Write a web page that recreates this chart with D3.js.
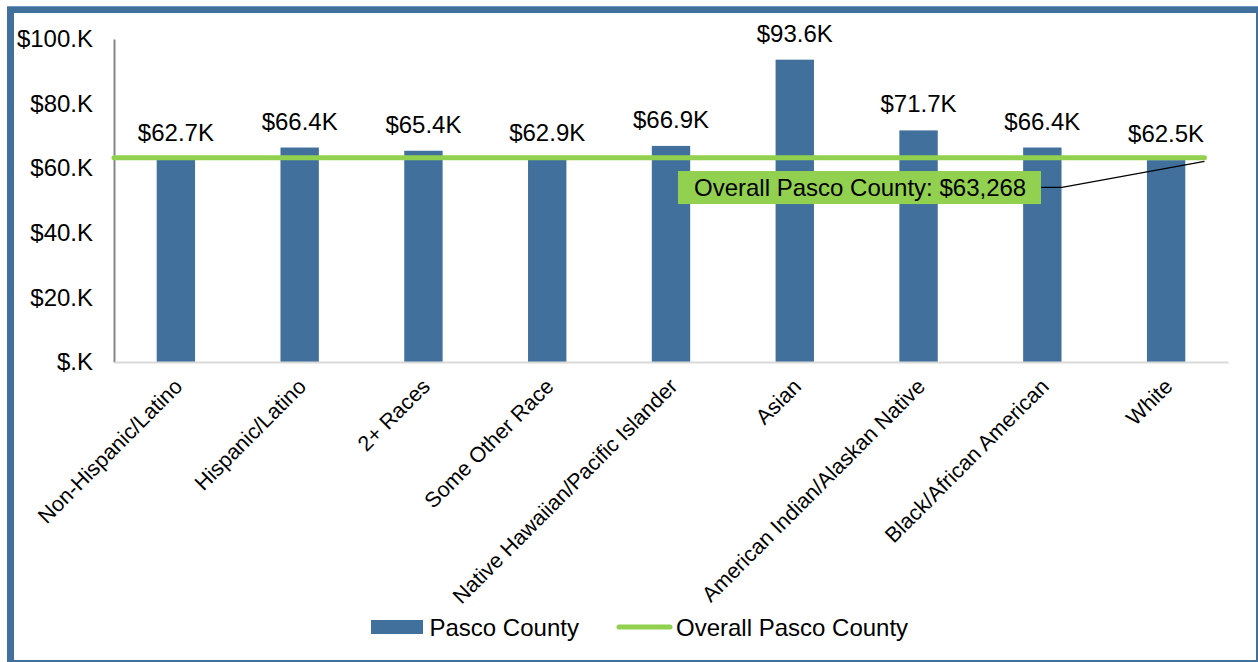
<!DOCTYPE html>
<html><head><meta charset="utf-8">
<script src="https://cdn.jsdelivr.net/npm/d3@7"></script>
<style>body{margin:0;background:#fff}svg{display:block;font-family:Arial,"Liberation Sans",sans-serif}</style>
</head><body><svg id="c" width="1258" height="662"></svg>
<script>
const categories = ["Non-Hispanic/Latino","Hispanic/Latino","2+ Races","Some Other Race","Native Hawaiian/Pacific Islander","Asian","American Indian/Alaskan Native","Black/African American","White"];
const pascoValues = [62700,66400,65400,62900,66900,93600,71700,66400,62500];
const valueLabels = ["$62.7K","$66.4K","$65.4K","$62.9K","$66.9K","$93.6K","$71.7K","$66.4K","$62.5K"];
const overallValue = 63268;
const overallLabel = "Overall Pasco County: $63,268";
const yTicks = [0,20000,40000,60000,80000,100000];
const yTickLabels = ["$.K","$20.K","$40.K","$60.K","$80.K","$100.K"];
const seriesNames = ["Pasco County","Overall Pasco County"];

const blue = "#41709c", green = "#92d050";
const svg = d3.select("#c");
const m = {left:114, right:1228, top:39, bottom:362};
const x = d3.scaleBand().domain(categories).range([m.left,m.right]).paddingInner(0.69).paddingOuter(0.345);
const y = d3.scaleLinear().domain([0,100000]).range([m.bottom,m.top]);
const fs = 24;

// frame
svg.append("rect").attr("x",10.5).attr("y",9.5).attr("width",1249).attr("height",654)
  .attr("fill","none").attr("stroke",blue).attr("stroke-width",7);
svg.append("line").attr("x1",7).attr("x2",1258).attr("y1",6.5).attr("y2",6.5).attr("stroke","#6f97bf").attr("stroke-width",1);

// y axis
const ya = svg.append("g").attr("transform",`translate(${m.left},0)`)
  .call(d3.axisLeft(y).tickValues(yTicks).tickSize(0).tickPadding(21).tickFormat((d,i)=>yTickLabels[i]));
ya.select(".domain").attr("stroke","#868686").attr("stroke-width",2);
ya.selectAll("text").attr("font-size",fs).attr("fill","#000").attr("font-family","Arial,'Liberation Sans',sans-serif");

// bars
svg.append("g").selectAll("rect").data(categories).join("rect")
  .attr("x",d=>x(d)).attr("width",x.bandwidth())
  .attr("y",(d,i)=>y(pascoValues[i])).attr("height",(d,i)=>y(0)-y(pascoValues[i]))
  .attr("fill",blue);

// x axis
const xa = svg.append("g").attr("transform",`translate(0,${m.bottom})`)
  .call(d3.axisBottom(x).tickSize(0).tickPadding(0));
xa.select(".domain").attr("stroke","#d9d9d9").attr("stroke-width",2);
xa.selectAll("text").attr("font-size",21.5).attr("fill","#000").attr("font-family","Arial,'Liberation Sans',sans-serif")
  .attr("text-anchor","end").attr("dy","0.71em")
  .attr("transform","translate(-3,15) rotate(-45)");

// overall line
const xEnd = x(categories[categories.length-1]) + x.bandwidth()*1.5;
svg.append("line").attr("x1",m.left).attr("x2",xEnd).attr("y1",y(overallValue)).attr("y2",y(overallValue))
  .attr("stroke",green).attr("stroke-width",5).attr("stroke-linecap","round");

// value labels
svg.append("g").selectAll("text").data(categories).join("text")
  .attr("x",d=>x(d)+x.bandwidth()/2).attr("y",(d,i)=>y(pascoValues[i])-18)
  .attr("text-anchor","middle").attr("font-size",fs).attr("fill","#000").text((d,i)=>valueLabels[i]);

// annotation
const ay = y(overallValue);
svg.append("polyline").attr("points",`1041,${ay+29.8} 1062,${ay+29.8} ${xEnd},${ay+3.8}`)
  .attr("fill","none").attr("stroke","#000").attr("stroke-width",1.3);
svg.append("rect").attr("x",678).attr("y",ay+13.4).attr("width",363).attr("height",33).attr("fill",green);
svg.append("text").attr("x",694).attr("y",ay+38).attr("font-size",fs).attr("fill","#000").text(overallLabel);

// legend
const lg = svg.append("g");
lg.append("rect").attr("x",371).attr("y",620).attr("width",52).attr("height",14).attr("fill",blue);
lg.append("text").attr("x",429.5).attr("y",635.5).attr("font-size",fs).text(seriesNames[0]);
lg.append("line").attr("x1",619).attr("x2",670).attr("y1",627).attr("y2",627).attr("stroke",green).attr("stroke-width",5).attr("stroke-linecap","round");
lg.append("text").attr("x",676).attr("y",635.5).attr("font-size",fs).text(seriesNames[1]);
</script></body></html>
